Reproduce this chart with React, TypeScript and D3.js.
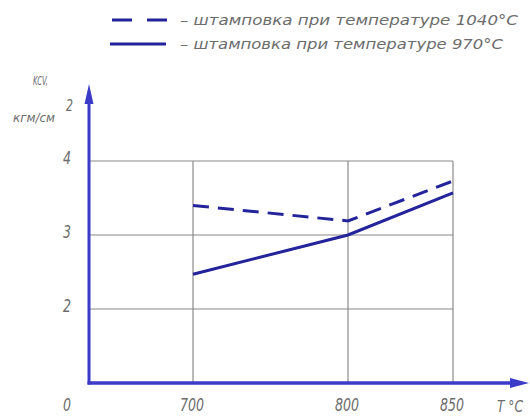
import React from "react";
import * as d3 from "d3";

// Forging temperature (°C) at which KCV was measured
const tempC = [700, 800, 850];
// KCV, кгм/см², after forging at 1040 °C
const kcv1040 = [3.4, 3.19, 3.73];
// KCV, кгм/см², after forging at 970 °C
const kcv970 = [2.47, 3.0, 3.57];

// Axis break points (origin is labelled 0 on both axes)
const xTicks = [700, 800, 850];
const yTicks = [2, 3, 4];

const legendLabels = [
  "– штамповка при температуре 1040°С",
  "– штамповка при температуре 970°С",
];

const W = 530;
const H = 416;

const lineBlue = "#23239a";
const axisBlue = "#3b3bc8";
const gridGray = "#8a8a8a";
const textGray = "#6c6c6c";
const font = "'DejaVu Sans Condensed', 'DejaVu Sans', sans-serif";

export default function App() {
  // Broken axes: piecewise-linear scales from the origin to the break points
  const x = d3.scaleLinear().domain([0, 700, 800, 850]).range([89, 193, 348, 453]);
  const y = d3.scaleLinear().domain([0, 2, 3, 4]).range([383, 309, 235, 161]);

  const line = d3
    .line<number>()
    .x((_, i) => x(tempC[i]))
    .y((d) => y(d));

  const x0 = x(0);
  const y0 = y(0);
  const xMax = x(850);
  const yMax = y(4);

  const textStyle = {
    fontFamily: font,
    fontStyle: "italic" as const,
    fill: textGray,
  };

  return (
    <svg
      width={W}
      height={H}
      style={{ position: "absolute", left: 0, top: 0, background: "#fff" }}
    >
      {/* legend */}
      <g>
        <line x1={112} x2={167} y1={20} y2={20} stroke={lineBlue} strokeWidth={3} strokeDasharray="20,15" />
        <line x1={110} x2={166} y1={44} y2={44} stroke={lineBlue} strokeWidth={3} />
        <text x={180} y={25} fontSize={14} textLength={338} lengthAdjust="spacingAndGlyphs" {...textStyle}>
          {legendLabels[0]}
        </text>
        <text x={180} y={49} fontSize={14} textLength={323} lengthAdjust="spacingAndGlyphs" {...textStyle}>
          {legendLabels[1]}
        </text>
      </g>

      {/* grid */}
      <g stroke={gridGray} strokeWidth={1.2}>
        {yTicks.map((t) => (
          <line key={"h" + t} x1={x0} x2={xMax} y1={y(t)} y2={y(t)} />
        ))}
        {xTicks.map((t) => (
          <line key={"v" + t} x1={x(t)} x2={x(t)} y1={y0} y2={yMax} />
        ))}
      </g>

      {/* axes with arrows */}
      <g>
        <line x1={x0} x2={x0} y1={y0 + 1.5} y2={100} stroke={axisBlue} strokeWidth={3} />
        <path d={`M${x0},84 L${x0 - 4.5},104 L${x0 + 4.5},104 Z`} fill={axisBlue} />
        <line x1={x0 - 1.5} x2={514} y1={y0} y2={y0} stroke={axisBlue} strokeWidth={3.5} />
        <path d={`M529,${y0} L510,${y0 - 5} L510,${y0 + 5} Z`} fill={axisBlue} />
      </g>

      {/* data lines */}
      <path d={line(kcv1040) ?? ""} fill="none" stroke={lineBlue} strokeWidth={3} strokeDasharray="16,9" />
      <path d={line(kcv970) ?? ""} fill="none" stroke={lineBlue} strokeWidth={3} />

      {/* y tick labels */}
      {yTicks.map((t) => (
        <text key={"yl" + t} x={67} y={y(t) + 3} fontSize={18} textAnchor="middle" textLength={8} lengthAdjust="spacingAndGlyphs" {...textStyle}>
          {t}
        </text>
      ))}
      {/* origin label */}
      <text x={67} y={411} fontSize={18} textAnchor="middle" textLength={8} lengthAdjust="spacingAndGlyphs" {...textStyle}>
        0
      </text>

      {/* x tick labels */}
      {xTicks.map((t) => (
        <text key={"xl" + t} x={x(t) - 1} y={411} fontSize={18} textAnchor="middle" textLength={24} lengthAdjust="spacingAndGlyphs" {...textStyle}>
          {t}
        </text>
      ))}
      <text x={497} y={412} fontSize={15} textLength={26} lengthAdjust="spacingAndGlyphs" {...textStyle}>
        T °C
      </text>

      {/* y axis title */}
      <text x={33} y={85} fontSize={12} textLength={15} lengthAdjust="spacingAndGlyphs" {...textStyle}>
        KCV,
      </text>
      <text x={13} y={122} fontSize={12} textLength={42} lengthAdjust="spacingAndGlyphs" {...textStyle}>
        кгм/см
      </text>
      <text x={66} y={111} fontSize={15} textLength={7} lengthAdjust="spacingAndGlyphs" {...textStyle}>
        2
      </text>
    </svg>
  );
}
